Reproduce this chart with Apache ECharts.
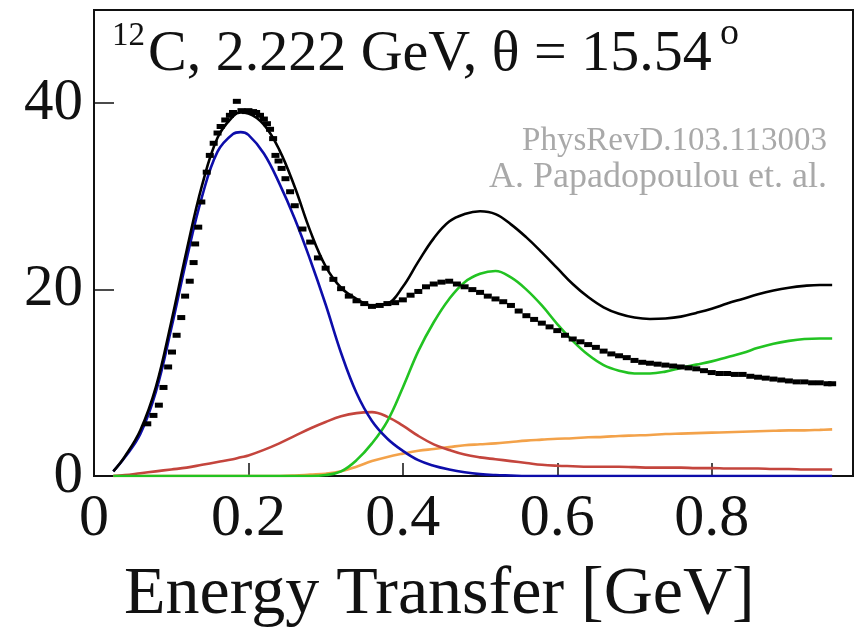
<!DOCTYPE html>
<html>
<head>
<meta charset="utf-8">
<script src="https://cdn.jsdelivr.net/npm/echarts@6/dist/echarts.min.js"></script>
<style>
  html, body { margin: 0; padding: 0; background: #fff; }
  #chart { width: 858px; height: 631px; }
</style>
</head>
<body>
<div id="chart"></div>
<script>
// measured points (12C, 2.222 GeV, 15.54 deg)
const dataX = [0.069, 0.077, 0.084, 0.090, 0.096, 0.101, 0.107, 0.113, 0.118, 0.124,
  0.129, 0.131, 0.135, 0.139, 0.146, 0.150, 0.155, 0.160, 0.164, 0.170,
  0.176, 0.180, 0.185, 0.191, 0.197, 0.200, 0.206, 0.210, 0.215, 0.220,
  0.224, 0.228, 0.232, 0.235, 0.239, 0.243, 0.248, 0.254,
  0.26, 0.27, 0.28, 0.29, 0.30, 0.31, 0.32, 0.33, 0.34, 0.35,
  0.36, 0.37, 0.38, 0.39, 0.40, 0.41, 0.42, 0.43, 0.44, 0.45,
  0.46, 0.47, 0.48, 0.49, 0.50, 0.51, 0.52, 0.53, 0.54, 0.55,
  0.56, 0.57, 0.58, 0.59, 0.60, 0.61, 0.62, 0.63, 0.64, 0.65,
  0.66, 0.67, 0.68, 0.69, 0.70, 0.71, 0.72, 0.73, 0.74, 0.75,
  0.76, 0.77, 0.78, 0.79, 0.80, 0.81, 0.82, 0.83, 0.84, 0.85,
  0.86, 0.87, 0.88, 0.89, 0.90, 0.91, 0.92, 0.93, 0.94, 0.95, 0.956];
const dataY = [5.6, 6.5, 7.6, 9.5, 11.7, 13.3, 15.1, 17.0, 19.3, 20.9,
  22.9, 24.9, 26.7, 29.4, 32.6, 34.4, 35.7, 36.8, 37.5, 38.2,
  38.7, 39.0, 40.2, 39.2, 39.1, 39.2, 39.1, 39.0, 38.7, 38.3,
  37.8, 37.2, 36.2, 34.4, 33.8, 33.0, 31.9, 30.5,
  29.0, 26.5, 25.1, 23.4, 22.3, 21.1, 20.1, 19.3, 18.8, 18.5,
  18.2, 18.3, 18.5, 18.6, 18.9, 19.4, 19.8, 20.3, 20.6, 20.8,
  20.9, 20.6, 20.3, 20.0, 19.7, 19.3, 19.0, 18.7, 18.3, 17.7,
  17.2, 16.8, 16.4, 16.0, 15.6, 15.1, 14.7, 14.4, 14.1, 13.8,
  13.4, 13.1, 12.9, 12.7, 12.4, 12.2, 12.1, 12.0, 11.9, 11.8,
  11.7, 11.6, 11.5, 11.3, 11.1, 11.0, 11.0, 10.9, 10.9, 10.7,
  10.6, 10.5, 10.4, 10.3, 10.2, 10.1, 10.1, 10.0, 10.0, 9.9, 9.9];

// model curves on a shared energy grid
const modelX = [0.025, 0.04, 0.06, 0.08, 0.10, 0.12, 0.14, 0.16, 0.18, 0.19,
  0.20, 0.22, 0.24, 0.26, 0.28, 0.30, 0.32, 0.34, 0.36, 0.38,
  0.40, 0.42, 0.44, 0.46, 0.48, 0.50, 0.52, 0.54, 0.56, 0.58,
  0.60, 0.62, 0.64, 0.66, 0.68, 0.70, 0.72, 0.74, 0.76, 0.78,
  0.80, 0.82, 0.84, 0.86, 0.88, 0.90, 0.92, 0.94, 0.956];
const totalY = [0.5, 2.1, 4.9, 9.5, 16.5, 24.2, 31.2, 36.3, 38.6, 39.0,
  38.9, 37.7, 35.0, 31.0, 26.3, 22.5, 20.2, 19.0, 18.3, 18.5,
  20.3, 23.0, 25.5, 27.3, 28.1, 28.4, 28.1, 27.0, 25.6, 24.0,
  22.3, 20.6, 19.2, 18.1, 17.4, 17.0, 16.85, 16.9, 17.1, 17.5,
  17.95, 18.5, 19.0, 19.5, 19.9, 20.2, 20.4, 20.5, 20.5];
const qeY = [0.5, 2.0, 4.5, 9.0, 15.8, 23.3, 30.0, 34.8, 36.7, 36.9,
  36.6, 34.6, 31.4, 27.6, 23.2, 18.4, 13.2, 8.9, 5.9, 4.0,
  2.7, 1.7, 1.1, 0.7, 0.4, 0.2, 0.1, 0.05, 0, 0,
  0, 0, 0, 0, 0, 0, 0, 0, 0, 0,
  0, 0, 0, 0, 0, 0, 0, 0, 0];
const mecY = [0, 0.1, 0.3, 0.5, 0.7, 0.9, 1.2, 1.5, 1.8, 2.0,
  2.2, 2.8, 3.5, 4.3, 5.1, 5.8, 6.4, 6.75, 6.85, 6.35,
  5.4, 4.3, 3.4, 2.8, 2.3, 2.0, 1.8, 1.6, 1.4, 1.2,
  1.1, 1.05, 1.0, 1.0, 1.0, 0.95, 0.9, 0.9, 0.9, 0.85,
  0.85, 0.8, 0.8, 0.8, 0.75, 0.75, 0.7, 0.7, 0.7];
const resY = [0, 0, 0, 0, 0, 0, 0, 0, 0, 0,
  0, 0, 0, 0, 0, 0.1, 0.5, 1.7, 3.5, 5.9,
  9.5, 13.4, 16.5, 19.0, 20.8, 21.7, 22.0, 21.3, 20.0, 18.3,
  16.3, 14.5, 13.0, 11.9, 11.3, 11.0, 11.0, 11.2, 11.6, 11.95,
  12.3, 12.75, 13.2, 13.75, 14.2, 14.5, 14.7, 14.75, 14.75];
const disY = [0, 0, 0, 0, 0, 0, 0, 0, 0, 0,
  0, 0, 0, 0.05, 0.15, 0.25, 0.5, 1.0, 1.6, 2.05,
  2.4, 2.7, 2.9, 3.1, 3.3, 3.4, 3.5, 3.65, 3.8, 3.9,
  4.0, 4.05, 4.15, 4.2, 4.3, 4.35, 4.4, 4.5, 4.55, 4.6,
  4.65, 4.7, 4.75, 4.8, 4.85, 4.9, 4.9, 4.95, 5.0];

const xTicks = [0, 0.2, 0.4, 0.6, 0.8];
const yTicks = [0, 20, 40];

const serif = '"Liberation Serif", "Times New Roman", serif';

function pairs(xs, ys) {
  return xs.map((x, i) => [x, ys[i]]);
}

function curve(name, ys, color, z) {
  return {
    name: name,
    type: "line",
    data: pairs(modelX, ys),
    smooth: 0.4,
    showSymbol: false,
    z: z,
    lineStyle: { color: color, width: 2.6 },
    animation: false,
  };
}

const chart = echarts.init(document.getElementById("chart"));

const option = {
  animation: false,
  grid: {
    left: 94,
    right: 5,
    top: 10,
    bottom: 155,
    show: true,
    borderColor: "#111",
    borderWidth: 2,
    containLabel: false,
  },
  xAxis: [
    {
      type: "value",
      min: 0,
      max: 0.983,
      interval: 0.2,
      axisLine: { show: true, onZero: false, lineStyle: { color: "#111", width: 2 } },
      axisTick: { inside: true, length: 13, lineStyle: { color: "#111", width: 1.5 } },
      axisLabel: {
        fontFamily: serif,
        fontSize: 60,
        color: "#111",
        margin: 13,
        showMaxLabel: false,
        formatter: (v) => (xTicks.indexOf(v) >= 0 ? String(v) : ""),
      },
      splitLine: { show: false },
    },
  ],
  yAxis: [
    {
      type: "value",
      min: 0,
      max: 50,
      interval: 20,
      axisLine: { show: true, onZero: false, lineStyle: { color: "#111", width: 2 } },
      axisTick: { inside: true, length: 20, lineStyle: { color: "#111", width: 1.5 } },
      axisLabel: {
        fontFamily: serif,
        fontSize: 59,
        color: "#111",
        margin: 11,
        showMaxLabel: false,
        formatter: (v) => (yTicks.indexOf(v) >= 0 ? String(v) : ""),
      },
      splitLine: { show: false },
    },
    {
      type: "value",
      position: "right",
      min: 0,
      max: 50,
      interval: 20,
      axisLine: { show: true, lineStyle: { color: "#111", width: 2 } },
      axisTick: { inside: false, length: 6, lineStyle: { color: "#111", width: 1.5 } },
      axisLabel: { show: false },
      splitLine: { show: false },
    },
  ],
  graphic: [
    {
      type: "text",
      left: 112,
      top: 20,
      style: { text: "12", font: "33px " + serif, fill: "#111" },
    },
    {
      type: "text",
      left: 148,
      top: 26,
      style: { text: "C, 2.222 GeV, θ = 15.54", font: "58px " + serif, fill: "#111" },
    },
    {
      type: "text",
      left: 720,
      top: 15,
      style: { text: "o", font: "38px " + serif, fill: "#111" },
    },
    {
      type: "text",
      right: 31,
      top: 125,
      style: { text: "PhysRevD.103.113003", font: "33px " + serif, fill: "#a9a9a9" },
    },
    {
      type: "text",
      right: 31,
      top: 160,
      style: { text: "A. Papadopoulou et. al.", font: "36px " + serif, fill: "#a9a9a9" },
    },
    {
      type: "text",
      left: 124,
      top: 561,
      style: { text: "Energy Transfer [GeV]", font: "68px " + serif, fill: "#111" },
    },
  ],
  series: [
    curve("DIS", disY, "#f3a24a", 2),
    curve("MEC", mecY, "#c4453d", 3),
    curve("RES", resY, "#22c322", 4),
    curve("QE", qeY, "#0d0daa", 5),
    curve("Total", totalY, "#000000", 6),
    {
      name: "Data",
      type: "scatter",
      data: pairs(dataX, dataY),
      symbol: "rect",
      symbolSize: [8, 5],
      itemStyle: { color: "#000", opacity: 1 },
      z: 7,
      animation: false,
    },
  ],
};

chart.setOption(option);
</script>
</body>
</html>
